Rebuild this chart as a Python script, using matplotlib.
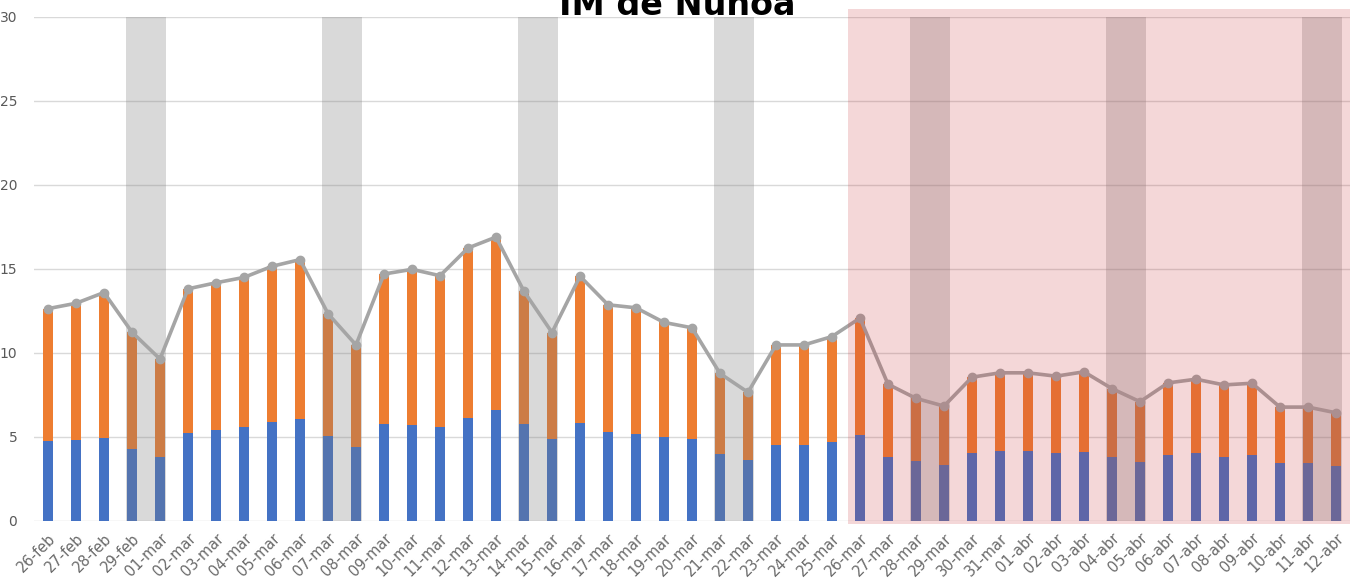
import numpy as np
import matplotlib.pyplot as plt
from matplotlib.patches import Rectangle

# -----------------------------
# Data
# -----------------------------
dates = (
    ["26-feb", "27-feb", "28-feb", "29-feb"]
    + [f"{d:02d}-mar" for d in range(1, 32)]
    + [f"{d:02d}-abr" for d in range(1, 13)]
)

blue = [
    4.74, 4.82, 4.94, 4.28,                                   # feb
    3.82, 5.26, 5.40, 5.60, 5.92, 6.08, 5.08, 4.42, 5.80, 5.74,
    5.62, 6.13, 6.59, 5.79, 4.87, 5.85, 5.27, 5.19, 4.99, 4.87,
    4.01, 3.63, 4.53, 4.53, 4.73, 5.13, 3.82, 3.56, 3.36, 4.02,
    4.16,                                                     # mar
    4.16, 4.02, 4.08, 3.82, 3.50, 3.90, 4.02, 3.82, 3.90, 3.44,
    3.44, 3.30,                                               # abr
]

total = [
    12.64, 12.96, 13.60, 11.24,
    9.64, 13.82, 14.18, 14.50, 15.16, 15.56, 12.34, 10.48, 14.70, 14.98,
    14.60, 16.25, 16.90, 13.67, 11.22, 14.57, 12.87, 12.69, 11.82, 11.50,
    8.78, 7.66, 10.48, 10.48, 10.98, 12.08, 8.14, 7.30, 6.84, 8.56,
    8.82,
    8.82, 8.62, 8.88, 7.88, 7.10, 8.22, 8.44, 8.10, 8.20, 6.78,
    6.78, 6.44,
]

orange = [t - b for t, b in zip(total, blue)]

# weekend pairs (first day of each pair)
weekends = ["29-feb", "07-mar", "14-mar", "21-mar", "28-mar", "04-abr", "11-abr"]
shade_from = "26-mar"

# -----------------------------
# Plot
# -----------------------------
plt.rcParams["font.family"] = ["DejaVu Sans"]

fig = plt.figure(figsize=(13.55, 5.85), dpi=100)
ax = fig.add_axes([34 / 1355, 1 - 521 / 585, 1316 / 1355, 504 / 585])

x = np.arange(len(dates))
w = 0.38

ax.bar(x, blue, width=w, color="#4472c4", zorder=2)
ax.bar(x, orange, width=w, bottom=blue, color="#ed7d31", zorder=2)

for d in weekends:
    i = dates.index(d)
    ax.add_patch(Rectangle((i - 0.22, 0), 1.44, 30, facecolor="#7c7c7c",
                           alpha=0.29, edgecolor="none", zorder=3))

ax.plot(x, total, color="#a5a5a5", lw=2.6, marker="o", ms=6, zorder=4)

i0 = dates.index(shade_from)
ax.add_patch(Rectangle((i0 - 0.43, -0.16), len(dates) - 0.5 - (i0 - 0.43), 30.64,
                       facecolor="#c8373c", alpha=0.2, edgecolor="none",
                       zorder=5, clip_on=False))

ax.set_xlim(-0.5, len(dates) - 0.5)
ax.set_ylim(0, 30)
ax.set_yticks(range(0, 31, 5))
ax.yaxis.grid(True, color="#d9d9d9", lw=1, zorder=0)
ax.set_axisbelow(True)
for s in ax.spines.values():
    s.set_visible(False)

ax.set_xticks(x)
ax.set_xticklabels(dates, rotation=45, ha="right", rotation_mode="anchor",
                   fontsize=10.5, color="#6a6a6a")
ax.tick_params(axis="both", length=0)
ax.tick_params(axis="x", pad=7)
ax.tick_params(axis="y", labelsize=10, colors="#595959", pad=12)

fig.text(0.5, 1 - 15 / 585, "IM de Ñuñoa", ha="center", va="baseline",
         fontsize=24, fontweight="bold", color="black")

fig.savefig("out.png", dpi=100)
